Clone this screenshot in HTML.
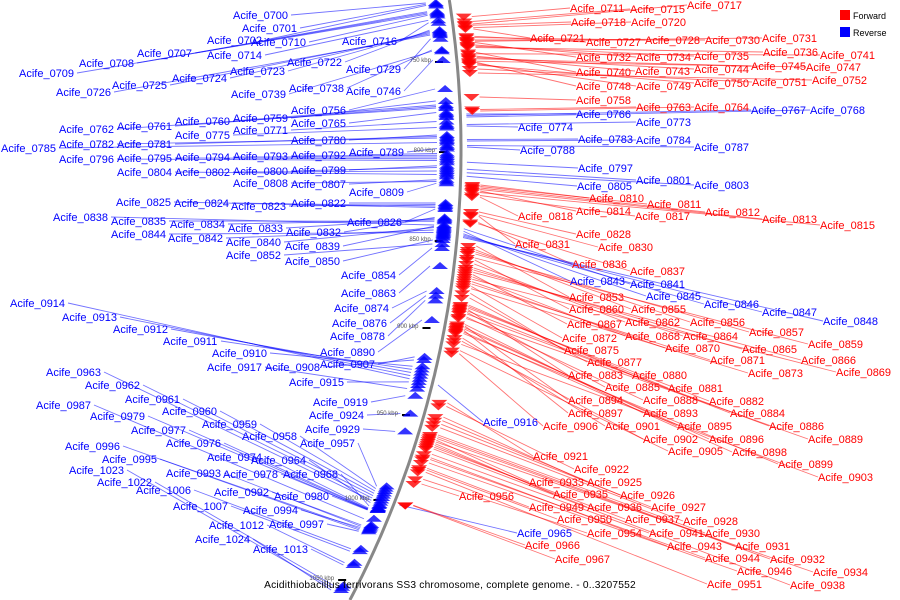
<!DOCTYPE html>
<html><head><meta charset="utf-8"><style>
body{margin:0;background:#fff}
svg{display:block;font-family:"Liberation Sans",sans-serif}
</style></head><body>
<svg id="map" width="900" height="600" viewBox="0 0 900 600">
<g id="lines"></g><g id="arcs"></g><g id="marks"></g><g id="labels"></g>
<rect x="840" y="10" width="10" height="10" fill="#f00"/>
<text x="853" y="19" font-size="9">Forward</text>
<rect x="840" y="27" width="10" height="10" fill="#00f"/>
<text x="853" y="36" font-size="9">Reverse</text>
<text x="450" y="588" font-size="10.2" text-anchor="middle" letter-spacing="0.2">Acidithiobacillus ferrivorans SS3 chromosome, complete genome. - 0..3207552</text>
</svg>
<script>
const genes = ("0700 233 19 b|0701 242 32 b|0702 207 44 b|0710 251 46 b|0707 137 57 b|0714 207 59 b|0716 342 45 b|0708 79 67 b|0709 19 77 b|0722 287 66 b|0723 230 75 b|0729 346 73 b|0724 172 82 b|0725 112 89 b|0726 56 96 b|0738 289 92 b|0739 231 98 b|0746 346 95 b|0756 291 114 b|0760 175 125 b|0759 233 122 b|0765 291 127 b|0762 59 133 b|0761 117 130 b|0771 233 134 b|0775 175 139 b|0780 291 144 b|0782 59 148 b|0781 117 148 b|0785 1 152 b|0789 349 156 b|0792 291 159 b|0793 233 160 b|0794 175 161 b|0795 117 162 b|0796 59 163 b|0799 291 174 b|0800 233 175 b|0802 175 176 b|0804 117 176 b|0807 291 188 b|0808 233 187 b|0809 349 196 b|0822 291 207 b|0823 231 210 b|0824 174 207 b|0825 116 206 b|0826 347 226 b|0838 53 221 b|0835 111 225 b|0834 170 228 b|0833 228 232 b|0832 286 236 b|0844 111 238 b|0842 168 242 b|0840 226 246 b|0839 285 250 b|0852 226 259 b|0850 285 265 b|0854 341 279 b|0863 341 297 b|0874 334 312 b|0876 332 327 b|0878 330 340 b|0914 10 307 b|0913 62 321 b|0912 113 333 b|0911 163 345 b|0910 212 357 b|0890 320 356 b|0917 207 371 b|0908 265 371 b|0907 320 368 b|0915 289 386 b|0963 46 376 b|0962 85 389 b|0961 125 403 b|0919 313 406 b|0960 162 415 b|0924 309 419 b|0987 36 409 b|0979 90 420 b|0959 202 428 b|0977 131 434 b|0929 305 433 b|0958 242 440 b|0976 166 447 b|0957 300 447 b|0996 65 450 b|0974 207 461 b|0964 251 464 b|0995 102 463 b|0993 166 477 b|0978 223 478 b|0968 283 478 b|1023 69 474 b|1022 97 486 b|1006 136 494 b|0992 214 496 b|0980 274 500 b|1007 173 510 b|0994 243 514 b|0997 269 528 b|1012 209 529 b|1024 195 543 b|1013 253 553 b|" +
"0711 570 12 r|0715 630 13 r|0717 687 9 r|0718 571 26 r|0720 631 26 r|0721 530 42 r|0727 586 46 r|0728 645 44 r|0730 705 44 r|0731 762 42 r|0736 763 56 r|0741 820 59 r|0732 576 61 r|0734 636 61 r|0735 694 60 r|0747 806 71 r|0745 751 70 r|0740 576 76 r|0743 635 75 r|0744 694 73 r|0752 812 84 r|0751 752 86 r|0748 576 90 r|0749 636 90 r|0750 694 87 r|0758 576 104 r|0763 636 111 r|0764 694 111 r|0767 751 114 b|0768 810 114 b|0766 576 118 b|0773 636 126 b|0774 518 131 b|0783 578 143 b|0784 636 144 b|0788 520 154 b|0787 694 151 b|0797 578 172 b|0801 636 184 b|0805 577 190 b|0803 694 189 b|0810 589 202 r|0811 647 208 r|0814 576 215 r|0818 518 220 r|0812 705 216 r|0817 635 220 r|0813 762 223 r|0815 820 229 r|0828 576 238 r|0831 515 248 r|0830 598 251 r|0836 572 268 r|0837 630 275 r|0843 570 285 b|0841 630 288 b|0845 646 300 b|0846 704 308 b|0847 762 316 b|0848 823 325 b|0853 569 301 r|0860 569 313 r|0855 631 313 r|0867 567 328 r|0862 625 326 r|0856 690 326 r|0872 562 342 r|0868 625 340 r|0864 683 340 r|0857 749 336 r|0859 808 348 r|0875 564 354 r|0870 665 352 r|0865 742 353 r|0866 801 364 r|0871 710 364 r|0869 836 376 r|0877 587 366 r|0873 748 377 r|0883 568 379 r|0880 632 379 r|0885 605 391 r|0881 668 392 r|0894 568 404 r|0888 643 404 r|0882 709 405 r|0897 568 417 r|0893 643 417 r|0884 730 417 r|0906 543 430 r|0901 605 430 r|0895 677 430 r|0886 769 430 r|0902 643 443 r|0896 709 443 r|0889 808 443 r|0905 668 455 r|0898 732 456 r|0899 778 468 r|0903 818 481 r|0916 483 426 b|0921 533 460 r|0922 574 473 r|0933 529 486 r|0925 587 486 r|0935 553 498 r|0926 620 499 r|0956 459 500 r|0949 529 511 r|0936 587 511 r|0927 651 511 r|0950 557 523 r|0937 625 523 r|0928 683 525 r|0954 587 537 r|0941 649 537 r|0930 705 537 r|0965 517 537 b|0966 525 549 r|0943 667 550 r|0931 735 550 r|0967 555 563 r|0944 705 562 r|0932 770 563 r|0946 737 575 r|0934 813 576 r|0951 707 588 r|0938 790 589 r").split("|");
const kbpTicks = [750,800,850,900,950,1000,1050];
const geneAnchors = [700,730,750,760,790,810,830,850,865,880,900,916,930,950,965,980,1000,1013,1024];
const geneAnchorY = [3,40,65,105,150,185,215,240,270,305,335,385,435,470,505,510,535,565,590];
const kbpY = [62,152,241,328,415,500,580];

const NS="http://www.w3.org/2000/svg";
const CX=-506, CY=150, R=967;
function arcX(y){return CX+Math.sqrt(R*R-(y-CY)*(y-CY));}
function geneY(n){
  for(let i=0;i<geneAnchors.length-1;i++){
    if(n<=geneAnchors[i+1]){const t=(n-geneAnchors[i])/(geneAnchors[i+1]-geneAnchors[i]);return geneAnchorY[i]+t*(geneAnchorY[i+1]-geneAnchorY[i]);}
  }
  return geneAnchorY[geneAnchorY.length-1];
}
function mk(tag,attrs,parent){const e=document.createElementNS(NS,tag);for(const k in attrs)e.setAttribute(k,attrs[k]);parent.appendChild(e);return e;}
const gL=document.getElementById('lines'),gA=document.getElementById('arcs'),gM=document.getElementById('marks'),gT=document.getElementById('labels');
let d="";for(let y=0;y<=600;y+=5){d+=(y?"L":"M")+arcX(y).toFixed(1)+" "+y;}
const bb=mk('path',{d:d,fill:'none',stroke:'#888',"stroke-width":3},gA);


kbpTicks.forEach((k,i)=>{const y=kbpY[i],x=arcX(y);
  const t=mk('line',{x1:x-22,y1:y,x2:x-14,y2:y,stroke:'#000',"stroke-width":2},gA);
  
  
  const tx=mk('text',{x:x-26,y:y,"font-size":6,"text-anchor":"end",fill:'#555'},gA);
  tx.textContent=k+" kbp";
  
  
});
genes.forEach(s=>{
  const p=s.split(" ");const num=+p[0],lx=+p[1],ly=+p[2],fw=p[3]==='r';
  const col=fw?'#f00':'#00f';
  const gy=geneY(num),ax=arcX(gy);
  const right=lx>ax;
  const mx=fw?ax+4:ax-22;
  const tri=fw?`M${mx} ${gy-3}L${mx+16} ${gy-3}L${mx+8} ${gy+4}Z`:`M${mx} ${gy+3}L${mx+16} ${gy+3}L${mx+8} ${gy-4}Z`;
  const a=mk('path',{d:tri,fill:col,opacity:0.8},gM);
  
  
  let l;
  if(right){l=mk('line',{x1:ax+(fw?20:6),y1:gy,x2:lx,y2:ly-4,stroke:col,"stroke-width":0.9,opacity:0.55},gL);}
  else{l=mk('line',{x1:lx+58,y1:ly-4,x2:ax-24,y2:gy,stroke:col,"stroke-width":0.9,opacity:0.55},gL);}
  
  
  const t=mk('text',{x:lx,y:ly,"font-size":11,fill:col},gT);
  t.textContent="Acife_"+p[0];
  
  
});
</script>
</body></html>
